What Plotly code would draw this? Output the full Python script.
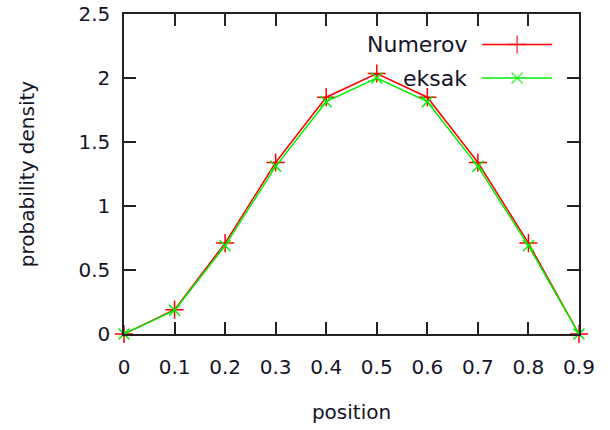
import plotly.graph_objects as go

positions = [0, 0.1, 0.2, 0.3, 0.4, 0.5, 0.6, 0.7, 0.8, 0.9]
numerov = [0, 0.19, 0.71, 1.34, 1.85, 2.035, 1.85, 1.34, 0.71, 0]
eksak = [0, 0.185, 0.69, 1.31, 1.815, 2.0, 1.815, 1.31, 0.69, 0]
x_ticks = [0, 0.1, 0.2, 0.3, 0.4, 0.5, 0.6, 0.7, 0.8, 0.9]
x_labels = ["0", "0.1", "0.2", "0.3", "0.4", "0.5", "0.6", "0.7", "0.8", "0.9"]
y_ticks = [0, 0.5, 1, 1.5, 2, 2.5]
y_labels = ["0", "0.5", "1", "1.5", "2", "2.5"]
series_names = ["Numerov", "eksak"]

RED = "#ff0000"
GREEN = "#00ee00"
FONT = "DejaVu Sans"
FS = 20
TXT = "#141428"

fig = go.Figure()
fig.add_trace(go.Scatter(x=positions, y=numerov, mode="lines+markers", name=series_names[0],
                         line=dict(color=RED, width=1.5),
                         marker=dict(symbol="cross-thin", size=13, line=dict(color=RED, width=1.5)),
                         showlegend=False, cliponaxis=False))
fig.add_trace(go.Scatter(x=positions, y=eksak, mode="lines+markers", name=series_names[1],
                         line=dict(color=GREEN, width=1.5),
                         marker=dict(symbol="x-thin", size=11, line=dict(color=GREEN, width=1.5)),
                         showlegend=False, cliponaxis=False))

# legend samples (gnuplot style: text left, sample right) on a hidden overlay axis
leg_y = [0.905, 0.8]
leg_specs = [(RED, "cross-thin", 13), (GREEN, "x-thin", 11)]
for name, ly, (col, sym, sz) in zip(series_names, leg_y, leg_specs):
    fig.add_trace(go.Scatter(x=[0.787, 0.864, 0.941], y=[ly, ly, ly], mode="lines+markers",
                             xaxis="x2", yaxis="y2", showlegend=False, hoverinfo="skip",
                             line=dict(color=col, width=1.5),
                             marker=dict(symbol=sym, size=[0, sz, 0], line=dict(color=col, width=1.5))))
    fig.add_annotation(x=0.758, y=ly, xref="x2", yref="y2", text=name, showarrow=False,
                       xanchor="right", yanchor="middle",
                       font=dict(family=FONT, size=FS + 2, color=TXT))

axis_common = dict(showgrid=False, zeroline=False, showline=True, linecolor="#222", linewidth=1.5,
                   mirror="allticks", ticks="inside", ticklen=12, tickwidth=1.5, tickcolor="#222",
                   automargin=False, ticklabeloverflow="allow",
                   tickfont=dict(family=FONT, size=FS, color=TXT))

fig.update_layout(
    width=610, height=430,
    margin=dict(l=124, r=31, t=14, b=96),
    paper_bgcolor="white", plot_bgcolor="white",
    xaxis=dict(range=[0, 0.9], tickvals=x_ticks, ticktext=x_labels, ticklabelstandoff=14,
               title=dict(text="position", font=dict(family=FONT, size=FS, color=TXT), standoff=27),
               **axis_common),
    yaxis=dict(range=[0, 2.5], tickvals=y_ticks, ticktext=y_labels, ticklabelstandoff=8,
               title=dict(text="probability density", font=dict(family=FONT, size=FS, color=TXT), standoff=38),
               **axis_common),
    xaxis2=dict(overlaying="x", range=[0, 1], visible=False, fixedrange=True),
    yaxis2=dict(overlaying="y", range=[0, 1], visible=False, fixedrange=True),
)

# remove the default 8px page margin so the figure sits at the window's corner
fig.write_html("out.html", config={"displayModeBar": False},
               post_script="document.body.style.margin='0px';")
